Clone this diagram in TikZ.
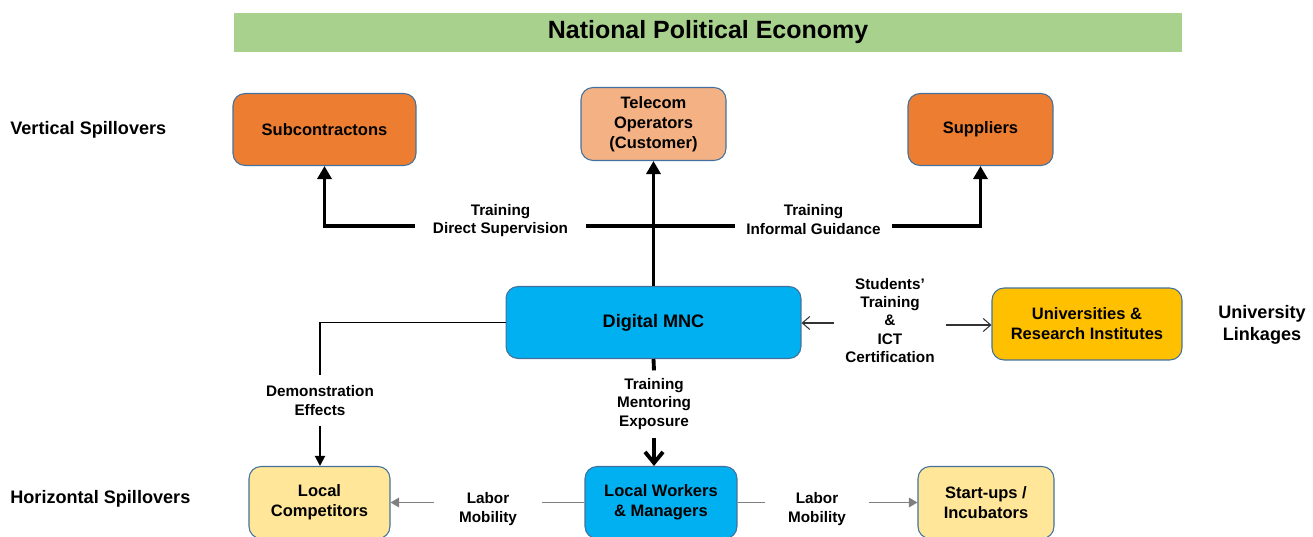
\documentclass[tikz,border=0pt]{standalone}
\usepackage{fontspec}
\setmainfont{Liberation Sans}
\usepackage{xcolor}
\usetikzlibrary{calc, positioning, arrows.meta}

\definecolor{econgreen}{HTML}{A9D18E}
\definecolor{deeporange}{HTML}{ED7D31}
\definecolor{peach}{HTML}{F4B183}
\definecolor{mncblue}{HTML}{00B0F0}
\definecolor{gold}{HTML}{FFC000}
\definecolor{paleyellow}{HTML}{FFE699}
\definecolor{edgeblue}{HTML}{41719C}
\definecolor{flowgray}{HTML}{7F7F7F}

\begin{document}
\begin{tikzpicture}[
  x=0.02cm, y=-0.02cm,
  font=\bfseries\fontsize{9.4}{11.3}\selectfont,
  block/.style={draw=edgeblue, line width=0.6pt, rounded corners=0.24cm, align=center, inner sep=0pt, minimum height=1.44cm},
  lbl/.style={align=center, font=\bfseries\fontsize{8.7}{10.3}\selectfont, inner ysep=0.16cm},
  side/.style={anchor=west, align=center, font=\bfseries\fontsize{10.3}{12.4}\selectfont, inner sep=0pt},
  bigline/.style={line width=2.2pt},
  bigarr/.style={line width=2.2pt, -{Triangle[length=2.6mm, width=2.8mm]}},
  openarr/.style={line width=2.2pt, -{Straight Barb[length=2.2mm, width=3.6mm]}},
  demarr/.style={line width=1.1pt},
  thinarr/.style={line width=0.6pt, black!80, -{Straight Barb[length=1.5mm, width=2.6mm]}},
  labarr/.style={line width=0.9pt, flowgray}
]
\useasboundingbox (0,0) rectangle (1313,537);

% top banner
\node[fill=econgreen, minimum width=18.96cm, minimum height=0.8cm, inner sep=0pt,
  font=\bfseries\fontsize{14.2}{17}\selectfont] (npe) at (708,32.5) {National Political Economy};

% boxes
\node[block, fill=deeporange, minimum width=3.66cm] (sub) at (324.5,129.5) {Subcontractons};
\node[block, fill=peach, minimum width=2.9cm, minimum height=1.46cm] (tel) at (653.5,124) {Telecom\\Operators\\(Customer)};
\node[block, fill=deeporange, minimum width=2.9cm] (sup) at (980.5,129.5) {Suppliers};
\node[block, fill=mncblue, minimum width=5.9cm] (mnc) at (653.5,322.5) {\fontsize{10.3}{12}\selectfont Digital MNC};
\node[block, fill=gold, minimum width=3.8cm] (uni) at (1087,324) {Universities \&\\Research Institutes};
\node[block, fill=paleyellow, minimum width=2.82cm] (comp) at (319.5,502.5) {Local\\Competitors};
\node[block, fill=mncblue, minimum width=3.04cm] (work) at (661,502.5) {Local Workers\\\& Managers};
\node[block, fill=paleyellow, minimum width=2.72cm] (start) at (986,502.5) {Start-ups /\\Incubators};

% row titles
\node[side] (vs) at (10,130) {Vertical Spillovers};
\node[side] (hs) at (10,499) {Horizontal Spillovers};
\node[side, anchor=center] (ul) at (1262,325) {University\\Linkages};

% edge labels
\node[lbl, inner xsep=0.36cm] (tds) at (500.5,220.5) {Training\\Direct Supervision};
\node[lbl, inner xsep=0.23cm] (tig) at (813.5,219.5) {Training\\Informal Guidance};
\node[lbl, inner xsep=0.22cm] (stu) at (890,320.5) {Students'\\Training\\\&\\ICT\\Certification};
\node[lbl, inner ysep=0.2cm] (dem) at (320,400.5) {Demonstration\\Effects};
\node[lbl, inner ysep=0.16cm] (tme) at (654,404) {Training\\Mentoring\\Exposure};
\node[lbl, inner xsep=0.5cm] (lm1) at (488,509) {Labor\\Mobility};
\node[lbl, inner xsep=0.45cm] (lm2) at (817,509) {Labor\\Mobility};

\coordinate (hub) at (mnc.north |- 0,226);

% vertical spillovers
\draw[bigarr] (mnc.north) -- (tel.south);
\draw[bigline] (hub -| tds.east) -- (hub -| tig.west);
\draw[bigarr] (hub -| tds.west) -| (sub.south);
\draw[bigarr] (hub -| tig.east) -| (sup.south);

% university linkages
\draw[thinarr] (stu.west |- 0,323) -- (mnc.east |- 0,323);
\draw[thinarr] (stu.east |- 0,325) -- (uni.west |- 0,325);

% horizontal spillovers
\draw[demarr] (mnc.west) -| (dem.north);
\draw[demarr, -{Triangle[length=2mm, width=2mm]}] (dem.south) -- (dem.south |- comp.north);
\draw[bigline] (mnc.south) -- (tme.north);
\draw[openarr] (tme.south) -- (tme.south |- work.north);
\draw[labarr] (work.west) -- (work.west -| lm1.east);
\draw[labarr, -{Triangle[length=1.7mm, width=1.9mm]}] (work.west -| lm1.west) -- (comp.east);
\draw[labarr] (work.east) -- (work.east -| lm2.west);
\draw[labarr, -{Triangle[length=1.7mm, width=1.9mm]}] (work.east -| lm2.east) -- (start.west);

\end{tikzpicture}
\end{document}
